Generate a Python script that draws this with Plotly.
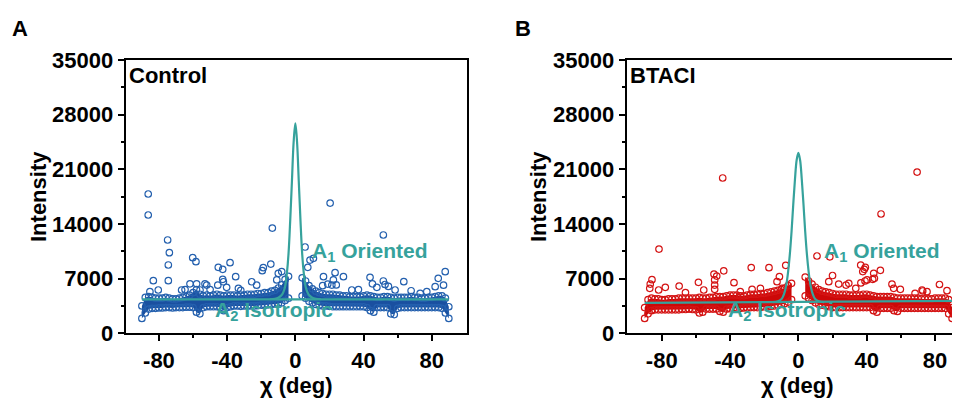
import plotly.graph_objects as go

# ---------------- data ----------------
chi = list(range(-90, 91, 2))

A_lo = [1900, 2600, 3100, 3200, 3200, 3250, 3250, 3300, 3300, 3250,
        3300, 3300, 3300, 3350, 3350, 3300, 2700, 2500, 3300, 3400,
        3400, 3400, 3400, 3300, 2900, 3300, 3400, 3500, 3500, 3450,
        3500, 3500, 3500, 3500, 3550, 3600, 3600, 3650, 3700, 3750,
        3800, 3900, 4200, 4500, None, None, None, 4800, 4500, 4100,
        3900, 3700, 3600, 3500, 3500, 3450, 3400, 3400, 3400, 3400,
        3400, 3400, 3400, 3400, 3400, 3400, 3300, 2900, 2700, 3300,
        3300, 3300, 3300, 2500, 2400, 3200, 3300, 3300, 3300, 3300,
        3300, 3300, 3300, 3300, 3300, 3300, 3300, 3300, 3200, 2600,
        1900]
A_hi = [3500, 4600, 4700, 4600, 4500, 4500, 4500, 4600, 4500, 4400,
        4400, 4500, 4600, 4700, 4900, 5200, 5600, 5000, 4800, 4900,
        4800, 4900, 5000, 4900, 4800, 4900, 4900, 4900, 4800, 4900,
        4900, 5000, 5000, 5000, 5100, 5100, 5200, 5200, 5400, 5500,
        5800, 6200, 6900, 7300, None, None, None, 7100, 6700, 6100,
        5700, 5400, 5200, 5100, 5000, 5000, 5000, 4900, 4900, 4800,
        4800, 4700, 4700, 4700, 4700, 4800, 4900, 4800, 4700, 4600,
        4600, 4700, 4700, 4600, 4500, 4600, 4600, 4600, 4600, 4700,
        4600, 4600, 4500, 4500, 4600, 4600, 4700, 4800, 4800, 4500,
        3400]

B_lo = [1900, 2500, 2900, 3000, 3000, 3000, 3000, 3000, 3000, 3000,
        3000, 3050, 3050, 3100, 3050, 3000, 2600, 2700, 3100, 3100,
        3100, 3100, 2800, 2700, 3100, 3150, 3200, 3200, 3200, 3250,
        3250, 3300, 3300, 3300, 3350, 3400, 3400, 3450, 3500, 3600,
        3700, 3800, 4000, 4300, None, None, None, 4800, 4500, 4200,
        3900, 3700, 3600, 3500, 3400, 3300, 3300, 3300, 3300, 3300,
        3300, 3300, 3300, 3300, 3300, 3300, 3300, 2900, 2700, 3200,
        3200, 3200, 3200, 2900, 2800, 3200, 3200, 3200, 3200, 3200,
        3200, 3200, 3200, 3200, 3200, 3200, 3200, 3200, 3200, 2500,
        1900]
B_hi = [3300, 4300, 4500, 4400, 4400, 4300, 4300, 4400, 4400, 4400,
        4500, 4500, 4500, 4500, 4500, 4500, 4600, 4500, 4500, 4600,
        4600, 4700, 4700, 4700, 4800, 4900, 4900, 4900, 4800, 4800,
        4900, 5000, 5000, 5000, 5100, 5100, 5200, 5300, 5400, 5500,
        5600, 5800, 6100, 6400, None, None, None, 7200, 6700, 6300,
        5900, 5600, 5400, 5300, 5200, 5100, 5000, 5000, 5000, 5000,
        4900, 4900, 4900, 4900, 5000, 5000, 4900, 4800, 4700, 4700,
        4700, 4700, 4700, 4600, 4500, 4500, 4500, 4500, 4500, 4500,
        4500, 4400, 4400, 4400, 4400, 4500, 4500, 4500, 4500, 4300,
        3300]

A_out_x = [-86.3, -86.3, -74.9, -73.9, -74.5, -74.5, -83.3, -80.4, -60.2, -58.3,
           -64.7, -61.8, -57.9, -53.0, -50.0, -45.2, -42.6, -38.3, -42.2, -45.5,
           -35.0, -25.6, -22.7, -19.4, -18.8, -14.4, -13.5, -10.9, -10.0, -8.0,
           -33.4, -40.3, -32.0, -85.3, -55.9, -66.7, -52.0, -42.6,
           5.7, 8.6, 10.6, 7.3, 16.5, 23.3, 22.3, 28.2, 16.0, 19.0,
           24.0, 33.1, 20.4, 43.8, 45.2, 47.8, 51.6, 51.6, 52.6, 54.6,
           63.6, 67.9, 82.0, 83.8, 87.9, 86.9, 77.1, 37.0, 58.5, 73.2, 21.4]
A_out_y = [17840, 15150, 11950, 10320, 8750, 6740, 6740, 5545, 9680, 9170,
           5600, 6340, 6340, 6340, 5600, 8450, 8190, 9040, 6600, 6160,
           7250, 6600, 6160, 8020, 8400, 8870, 13480, 6830, 7680, 7900,
           5760, 5890, 5500, 5330, 5545, 5545, 6180, 6910,
           11050, 9380, 9600, 8450, 7250, 7760, 6830, 7250, 6100, 6300,
           6200, 5545, 16680, 7170, 6340, 5890, 12590, 6700, 6250, 6000,
           6610, 5450, 5970, 7040, 7890, 6160, 5330, 5600, 5545, 5120, 6180]

B_out_x = [-44.3, 69.5, 48.4, -81.6, 10.9, 18.4, -27.6, -17.2, -7.4, -43.7,
           -49.4, -47.8, 36.5, 38.6, 48.0, 44.5, 20.0, -58.5, -37.7, -85.7,
           82.6, 72.8, -69.8, 54.8, 27.9, 40.2, -86.7, -87.0, -81.8, -77.9,
           -66.1, -55.4, -49.0, -49.0, -49.0, -34.0, -27.1, -22.2, -12.5, -11.1,
           -9.6, 17.8, 23.6, 29.5, 37.7, 39.2, 43.5, 39.0, 36.6, 55.8,
           59.7, 72.4, 87.0, 68.3, 75.3, 33.6, 44.1]
B_out_y = [19890, 20650, 15280, 10780, 9900, 9800, 8420, 8400, 8700, 8000,
           7590, 7330, 8740, 8190, 8060, 7040, 7400, 6530, 6480, 6870,
           6250, 5420, 6050, 6290, 6180, 6830, 6310, 5760, 5545, 5890,
           5220, 5545, 6830, 6180, 5630, 5330, 5630, 5760, 6610, 7250,
           5760, 6610, 6310, 6400, 7900, 8450, 6910, 6700, 6450, 5760,
           5630, 5545, 5460, 5120, 5330, 5760, 7680]

A_fit_x = [-15, -12, -10, -8, -7, -6, -5, -4, -3, -2, -1, 0, 1, 2, 3, 4, 5, 6, 7, 8, 10, 12, 15]
A_fit_y = [4360, 4420, 4550, 4900, 5300, 6000, 7600, 10200, 14500, 19500, 24500, 26900,
           24500, 19500, 14500, 10200, 7600, 6000, 5300, 4900, 4550, 4420, 4360]
A_base_x = [-90, 90]
A_base_y = [4350, 4350]

B_fit_x = [-15, -12, -10, -9, -8, -7, -6, -5, -4, -3, -2, -1, 0, 1, 2, 3, 4, 5, 6, 7, 8, 9, 10, 12, 15]
B_fit_y = [4000, 4100, 4350, 4700, 5300, 6300, 7900, 10100, 13000, 16500, 19700, 22200, 23100,
           22200, 19700, 16500, 13000, 10100, 7900, 6300, 5300, 4700, 4350, 4100, 4000]
B_base_x = [-90, 90]
B_base_y = [3900, 4150]

x_ticks = [-80, -40, 0, 40, 80]
x_ticktext = ["-80", "-40", "0", "40", "80"]
x_minor = [-60, -20, 20, 60]
y_ticks = [0, 7000, 14000, 21000, 28000, 35000]
y_ticktext = ["0", "7000", "14000", "21000", "28000", "35000"]
y_minor = [3500, 10500, 17500, 24500, 31500]

# ---------------- style ----------------
FONT = "Arial, 'Liberation Sans', sans-serif"
TEAL = "#36a29c"
W, H = 960, 401
OFF = 8  # page body margin of the html page


def segments(xs, lo, hi):
    segs, cur = [], []
    for x, a, b in zip(xs, lo, hi):
        if a is None:
            if cur:
                segs.append(cur)
            cur = []
        else:
            cur.append((x, a, b))
    if cur:
        segs.append(cur)
    return segs


fig = go.Figure()


def add_panel(xa, ya, lo, hi, ox, oy, fx, fy, bx, by, band_col, mk_col):
    for seg in segments(chi, lo, hi):
        sx = [p[0] for p in seg]
        slo = [p[1] for p in seg]
        shi = [p[2] for p in seg]
        fig.add_trace(go.Scatter(x=sx + sx[::-1], y=shi + slo[::-1], fill="toself",
                                 fillcolor=band_col, mode="lines", line=dict(width=0),
                                 xaxis=xa, yaxis=ya, showlegend=False, hoverinfo="skip"))
    mk = dict(symbol="circle-open", size=6.5, color=mk_col, line=dict(width=1.2, color=mk_col))
    fig.add_trace(go.Scatter(x=chi, y=hi, mode="markers", marker=mk, xaxis=xa, yaxis=ya, showlegend=False))
    fig.add_trace(go.Scatter(x=chi, y=lo, mode="markers", marker=mk, xaxis=xa, yaxis=ya, showlegend=False))
    fig.add_trace(go.Scatter(x=ox, y=oy, mode="markers", marker=mk, xaxis=xa, yaxis=ya, showlegend=False))
    fig.add_trace(go.Scatter(x=bx, y=by, mode="lines", line=dict(color=TEAL, width=2.2),
                             xaxis=xa, yaxis=ya, showlegend=False))
    fig.add_trace(go.Scatter(x=fx, y=fy, mode="lines", line=dict(color=TEAL, width=2.2, shape="spline"),
                             xaxis=xa, yaxis=ya, showlegend=False))


add_panel("x", "y", A_lo, A_hi, A_out_x, A_out_y, A_fit_x, A_fit_y, A_base_x, A_base_y,
          "#1a50a0", "#2460ae")
add_panel("x2", "y2", B_lo, B_hi, B_out_x, B_out_y, B_fit_x, B_fit_y, B_base_x, B_base_y,
          "#cc0808", "#d41414")

tickfont = dict(family=FONT, size=22, color="black", weight="bold")
common_x = dict(showline=True, linecolor="black", linewidth=2, mirror=True,
                ticks="outside", ticklen=6, tickwidth=2, tickcolor="black",
                tickvals=x_ticks, ticktext=x_ticktext, tickfont=tickfont,
                minor=dict(tickvals=x_minor, ticks="outside", ticklen=3, tickwidth=2, tickcolor="black"),
                showgrid=False, zeroline=False, automargin=False)
common_y = dict(showline=True, linecolor="black", linewidth=2,
                ticks="outside", ticklen=6, tickwidth=2, tickcolor="black",
                tickvals=y_ticks, ticktext=y_ticktext, tickfont=tickfont, range=[0, 35000],
                minor=dict(tickvals=y_minor, ticks="outside", ticklen=3, tickwidth=2, tickcolor="black"),
                showgrid=False, zeroline=False, automargin=False)


def px(x):
    return (x - OFF) / W


def py(y):
    return 1 - (y - OFF) / H


ydom = [py(333.3), py(60)]

fig.update_layout(
    width=W, height=H, margin=dict(l=0, r=0, t=0, b=0, pad=0, autoexpand=False),
    paper_bgcolor="white", plot_bgcolor="white", showlegend=False,
    font=dict(family=FONT, color="black"),
    xaxis=dict(domain=[px(125.7), px(466.7)], range=[-99.5, 100.5], anchor="y", **common_x),
    yaxis=dict(domain=ydom, anchor="x", mirror=True, **common_y),
    xaxis2=dict(domain=[px(626.7), 1.0], range=[-100.5, 99.3], anchor="y2", **common_x),
    yaxis2=dict(domain=ydom, anchor="x2", mirror=True, **common_y),
)

bold = lambda s, c="black": dict(family=FONT, size=s, color=c, weight="bold")
ann = [
    dict(text="A", x=px(20), y=py(28), font=bold(22)),
    dict(text="B", x=px(523), y=py(28), font=bold(22)),
    dict(text="Control", x=px(127), y=py(75), xanchor="left", font=bold(22)),
    dict(text="BTACI", x=px(628), y=py(75), xanchor="left", font=bold(22)),
    dict(text="Intensity", x=px(38), y=py(197), textangle=-90, font=bold(22)),
    dict(text="Intensity", x=px(538), y=py(197), textangle=-90, font=bold(22)),
    dict(text="χ (deg)", x=px(296), y=py(385), font=bold(22)),
    dict(text="χ (deg)", x=px(797), y=py(385), font=bold(22)),
]
for a in ann:
    a.update(xref="paper", yref="paper", showarrow=False)
    a.setdefault("xanchor", "center")
    a.setdefault("yanchor", "middle")

ann += [
    dict(text="A<sub>1</sub> Oriented", x=8.6, y=10400, xref="x", yref="y", xanchor="left",
         yanchor="middle", showarrow=False, font=bold(21, TEAL)),
    dict(text="A<sub>2</sub> Isotropic", x=-48.3, y=2900, xref="x", yref="y", xanchor="left",
         yanchor="middle", showarrow=False, font=bold(21, TEAL)),
    dict(text="A<sub>1</sub> Oriented", x=14.0, y=10400, xref="x2", yref="y2", xanchor="left",
         yanchor="middle", showarrow=False, font=bold(21, TEAL)),
    dict(text="A<sub>2</sub> Isotropic", x=-42.2, y=2900, xref="x2", yref="y2", xanchor="left",
         yanchor="middle", showarrow=False, font=bold(21, TEAL)),
]
fig.update_layout(annotations=ann)

fig.write_html("out.html")
